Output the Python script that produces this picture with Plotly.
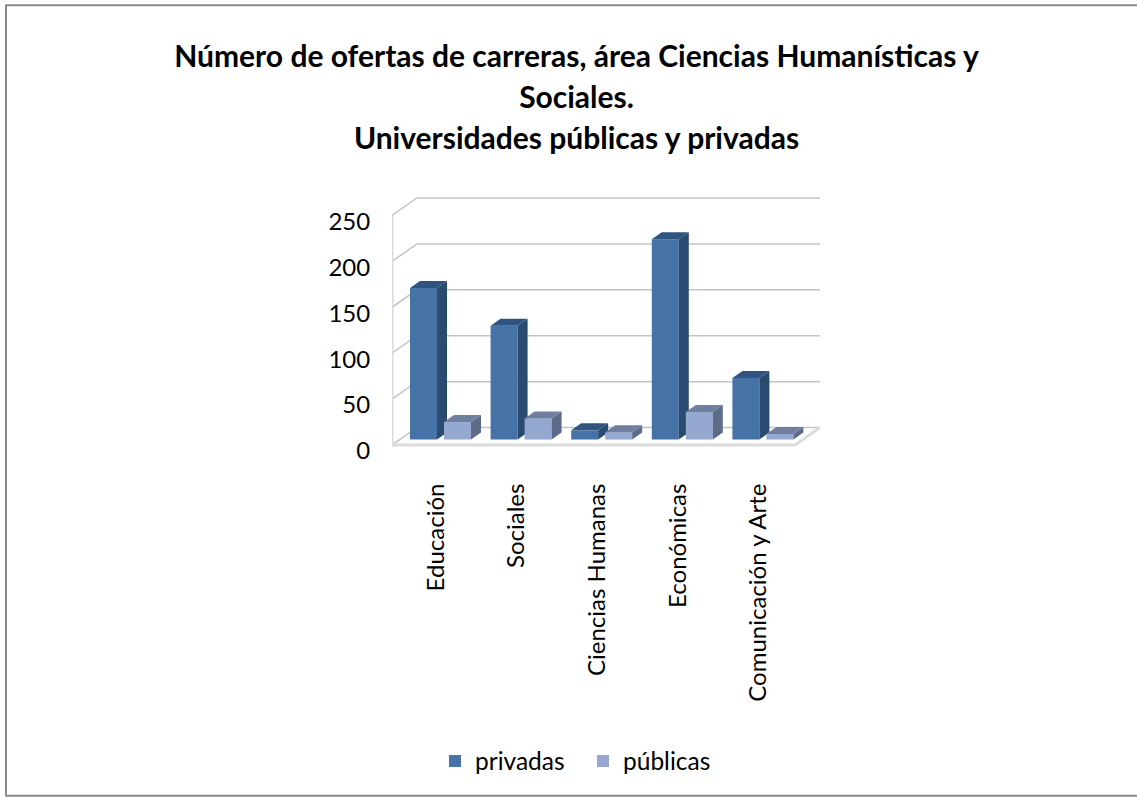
import plotly.graph_objects as go

categories = ["Educación", "Sociales", "Ciencias Humanas", "Económicas", "Comunicación y Arte"]
privadas = [165, 124, 10, 218, 67]
publicas = [19, 23, 8, 30, 6]
y_ticks = [0, 50, 100, 150, 200, 250]

W, H = 1137, 799
L, R, T, B = 392, 825, 190, 451.5
PX_Y = 0.92
PX_X = 80.6
X0_PX = 440
XMIN = (L - X0_PX) / PX_X
XMAX = (R - X0_PX) / PX_X
YMAX = (B - T) / PX_Y
dx_u = lambda px: px / PX_X
dy_u = lambda px: px / PX_Y

idx = list(range(len(categories)))
BAR_W = dx_u(27)
BASE = dy_u(11.5)
SIDE_DX, SIDE_DY = dx_u(10), dy_u(7)


def faces(vals, off, top_col, side_col, xa, ya):
    out = []
    for i, v in zip(idx, vals):
        x0 = i + off
        x1 = x0 + BAR_W
        y0, y1 = BASE, BASE + v
        out.append(go.Scatter(x=[x1, x1 + SIDE_DX, x1 + SIDE_DX, x1, x1],
                              y=[y0, y0 + SIDE_DY, y1 + SIDE_DY, y1, y0],
                              fill="toself", fillcolor=side_col, mode="none",
                              showlegend=False, hoverinfo="skip", xaxis=xa, yaxis=ya))
        out.append(go.Scatter(x=[x0, x0 + SIDE_DX, x1 + SIDE_DX, x1, x0],
                              y=[y1, y1 + SIDE_DY, y1 + SIDE_DY, y1, y1],
                              fill="toself", fillcolor=top_col, mode="none",
                              showlegend=False, hoverinfo="skip", xaxis=xa, yaxis=ya))
    return out


fig = go.Figure()

# walls: gridlines on the back plane plus slanted left-wall segments
WALL_FRONT = dy_u(6)
WALL_BACK = dy_u(23.5)
left = XMIN
back_left = XMIN + dx_u(25)
right = XMIN + dx_u(428)
grid_x, grid_y = [], []
for t in y_ticks:
    grid_x += [left, back_left, right, None]
    grid_y += [t + WALL_FRONT, t + WALL_BACK, t + WALL_BACK, None]
fig.add_trace(go.Scatter(x=grid_x, y=grid_y, mode="lines", showlegend=False, hoverinfo="skip",
                         line=dict(color="#c4c4c4", width=1.5)))
fig.add_trace(go.Scatter(x=[left, left, right - dx_u(25), right],
                         y=[y_ticks[-1] + WALL_FRONT, WALL_FRONT, WALL_FRONT, WALL_BACK],
                         mode="lines", showlegend=False, hoverinfo="skip",
                         line=dict(color="#dcdcdc", width=3)))

PRIV_OFF = dx_u(410 - 440)
PUB_OFF = dx_u(444 - 440)

fig.add_trace(go.Bar(x=idx, y=privadas, base=BASE, width=BAR_W, offset=PRIV_OFF, name="privadas",
                     marker=dict(color="#4572a7", line_width=0), xaxis="x2", yaxis="y2"))
fig.add_traces(faces(privadas, PRIV_OFF, "#2f5480", "#2b4a6f", "x2", "y2"))
fig.add_trace(go.Bar(x=idx, y=publicas, base=BASE, width=BAR_W, offset=PUB_OFF, name="públicas",
                     marker=dict(color="#94a8d0", line_width=0), xaxis="x3", yaxis="y3"))
fig.add_traces(faces(publicas, PUB_OFF, "#6f7f9f", "#5c6c88", "x3", "y3"))

FONT = "Lato"
title_lines = ["Número de ofertas de carreras, área Ciencias Humanísticas y", "Sociales.",
               "Universidades públicas y privadas"]
title_text = "<br>".join(f'<span style="font-size:30px"><b>{s}</b></span>' for s in title_lines)

hidden = dict(visible=False, showgrid=False, zeroline=False)
fig.update_layout(
    width=W, height=H,
    margin=dict(l=L, r=W - R, t=T, b=H - B, autoexpand=False),
    paper_bgcolor="white", plot_bgcolor="white",
    font=dict(family=FONT, color="#000000"),
    barmode="overlay",
    title=dict(text=title_text, x=576.5 / W, xanchor="center", y=1 - 67 / H, yanchor="top",
               font=dict(size=31.5, family=FONT, color="#000000")),
    xaxis=dict(range=[XMIN, XMAX], tickvals=[i - dx_u(4) for i in idx], ticktext=categories, tickangle=-90,
               showgrid=False, zeroline=False, showline=False, ticks="outside", ticklen=22,
               tickcolor="rgba(0,0,0,0)", tickfont=dict(size=24, family=FONT)),
    yaxis=dict(range=[0, YMAX], tickvals=y_ticks, showgrid=False, zeroline=False, showline=False,
               ticks="outside", ticklen=16, tickcolor="rgba(0,0,0,0)",
               tickfont=dict(size=24, family=FONT)),
    xaxis2=dict(range=[XMIN, XMAX], overlaying="x", **hidden),
    yaxis2=dict(range=[0, YMAX], overlaying="y", **hidden),
    xaxis3=dict(range=[XMIN, XMAX], overlaying="x", **hidden),
    yaxis3=dict(range=[0, YMAX], overlaying="y", **hidden),
    legend=dict(orientation="h", x=435 / W, xanchor="left", y=38 / H, yanchor="middle",
                xref="container", yref="container", font=dict(size=24.5, family=FONT),
                itemwidth=30, entrywidth=103, entrywidthmode="pixels", bgcolor="rgba(0,0,0,0)"),
    shapes=[dict(type="rect", xref="paper", yref="paper", layer="below",
                 x0=(6 - L) / (R - L), x1=(1150 - L) / (R - L),
                 y0=(B - 797) / (B - T), y1=(B - 5) / (B - T),
                 line=dict(color="#8a8a8a", width=2), fillcolor="rgba(0,0,0,0)")],
)

fig.write_html("out.html", config=dict(displayModeBar=False),
               post_script="document.body.style.margin='0';document.body.style.overflow='hidden';")
